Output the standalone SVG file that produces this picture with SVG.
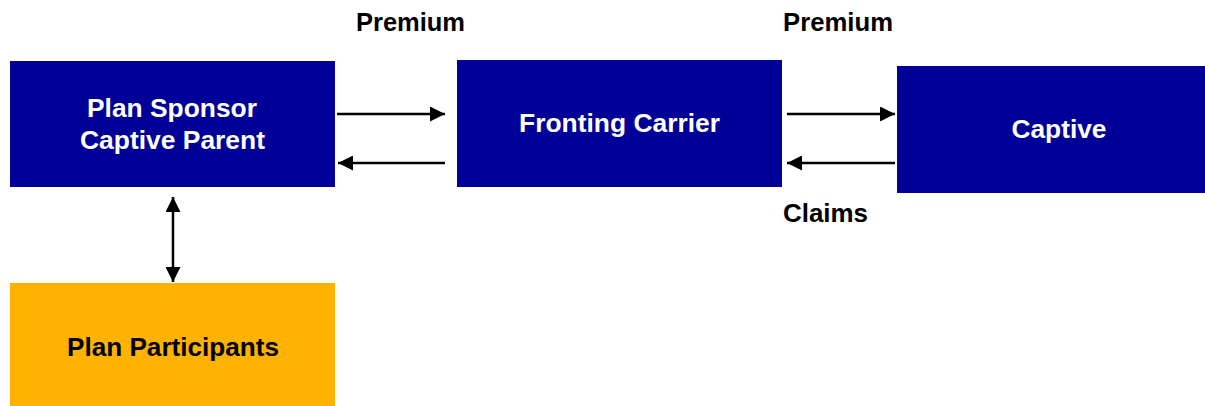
<svg xmlns="http://www.w3.org/2000/svg" width="1205" height="406" viewBox="0 0 1205 406">
<style>
.box{fill:#000099}
.gold{fill:#FFB300}
.t{font-family:"Liberation Sans",Arial,sans-serif;font-weight:bold;font-size:25.5px;text-anchor:middle}
.w{fill:#ffffff}
.k{fill:#000000}
.lbl{font-family:"Liberation Sans",Arial,sans-serif;font-weight:bold;font-size:25.5px;fill:#000}
.c{stroke:#000;stroke-width:2.5;fill:none}
</style>
<defs>
<marker id="ah" viewBox="0 0 10 10" refX="10" refY="5" markerWidth="6" markerHeight="6" orient="auto-start-reverse" markerUnits="strokeWidth">
<path d="M0,0 L10,5 L0,10 Z" fill="#000"/>
</marker>
</defs>
<g id="sponsor">
<rect class="box" x="10" y="61" width="325" height="126"/>
<text class="t w" x="172" y="117" textLength="170" lengthAdjust="spacingAndGlyphs">Plan Sponsor</text>
<text class="t w" x="172.5" y="149" textLength="185" lengthAdjust="spacingAndGlyphs">Captive Parent</text>
</g>
<g id="fronting">
<rect class="box" x="457" y="60" width="325" height="127"/>
<text class="t w" x="619.5" y="132" textLength="201" lengthAdjust="spacingAndGlyphs">Fronting Carrier</text>
</g>
<g id="captive">
<rect class="box" x="897" y="66" width="308" height="127"/>
<text class="t w" x="1059" y="138" textLength="95" lengthAdjust="spacingAndGlyphs">Captive</text>
</g>
<g id="participants">
<rect class="gold" x="10" y="283" width="325" height="123"/>
<text class="t k" x="173" y="356" textLength="212" lengthAdjust="spacingAndGlyphs">Plan Participants</text>
</g>
<g id="labels">
<text class="lbl" x="356" y="30.5" textLength="109" lengthAdjust="spacingAndGlyphs">Premium</text>
<text class="lbl" x="783" y="30.5" textLength="110" lengthAdjust="spacingAndGlyphs">Premium</text>
<text class="lbl" x="783" y="222" textLength="85" lengthAdjust="spacingAndGlyphs">Claims</text>
</g>
<g id="connectors">
<line class="c" x1="337" y1="114" x2="445" y2="114" marker-end="url(#ah)"/>
<line class="c" x1="445" y1="163" x2="338" y2="163" marker-end="url(#ah)"/>
<line class="c" x1="787" y1="114" x2="895" y2="114" marker-end="url(#ah)"/>
<line class="c" x1="895" y1="163" x2="787" y2="163" marker-end="url(#ah)"/>
<line class="c" x1="173" y1="197" x2="173" y2="282" marker-start="url(#ah)" marker-end="url(#ah)"/>
</g>
</svg>
